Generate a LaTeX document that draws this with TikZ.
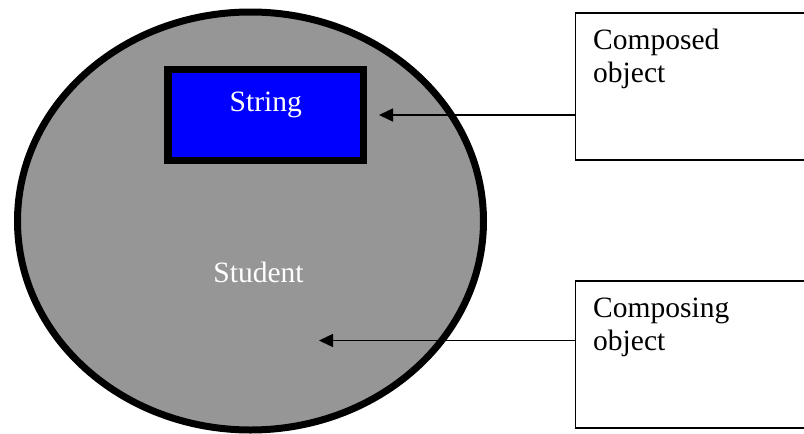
\documentclass[tikz,border=0pt]{standalone}
\usepackage{fontspec}
\setmainfont{Liberation Serif}
\usetikzlibrary{arrows.meta,shapes.geometric}
\definecolor{ellgray}{RGB}{150,150,150}
\definecolor{strblue}{RGB}{0,0,255}
\tikzset{
  bigfont/.style={font=\fontsize{29.5}{33}\selectfont},
  studentshape/.style={ellipse, draw=black, fill=ellgray, line width=7pt,
    minimum width=466pt, minimum height=418pt, inner sep=0pt},
  stringbox/.style={rectangle, draw=black, fill=strblue, line width=7.5pt,
    minimum width=195.5pt, minimum height=91pt, inner sep=0pt,
    text=white, bigfont, text height=20pt, text depth=28pt},
  notebox/.style={rectangle, draw=black, line width=1.5pt, fill=white,
    minimum width=250pt, minimum height=147pt, inner sep=0pt, anchor=north west},
  notetext/.style={bigfont, align=left, anchor=north west, inner sep=0pt},
  conn/.style={draw=black, line width=1.5pt, -{Triangle[length=14pt,width=13pt]}}
}
\begin{document}
\begin{tikzpicture}[x=1pt,y=-1pt]
\useasboundingbox (0,0) rectangle (804,434);
\clip (0,0) rectangle (804,434);
\node[studentshape] (student) at (250.5,221) {};
\node[stringbox] (string) at (265.75,115) {String};
\node[bigfont, text=white, anchor=base] (studentlabel) at (258.5,282) {Student};
\node[notebox] (composed) at (574.5,12) {};
\node[notetext] (composedtext) at (593,29) {Composed\\object};
\node[notebox] (composing) at (574.5,280) {};
\node[notetext] (composingtext) at (593,298) {Composing\\object};
\coordinate (t1) at (379,115);
\coordinate (t2) at (319,340.5);
\draw[conn] (composed.west |- t1) -- (t1);
\draw[conn] (composing.west |- t2) -- (t2);
\end{tikzpicture}
\end{document}
